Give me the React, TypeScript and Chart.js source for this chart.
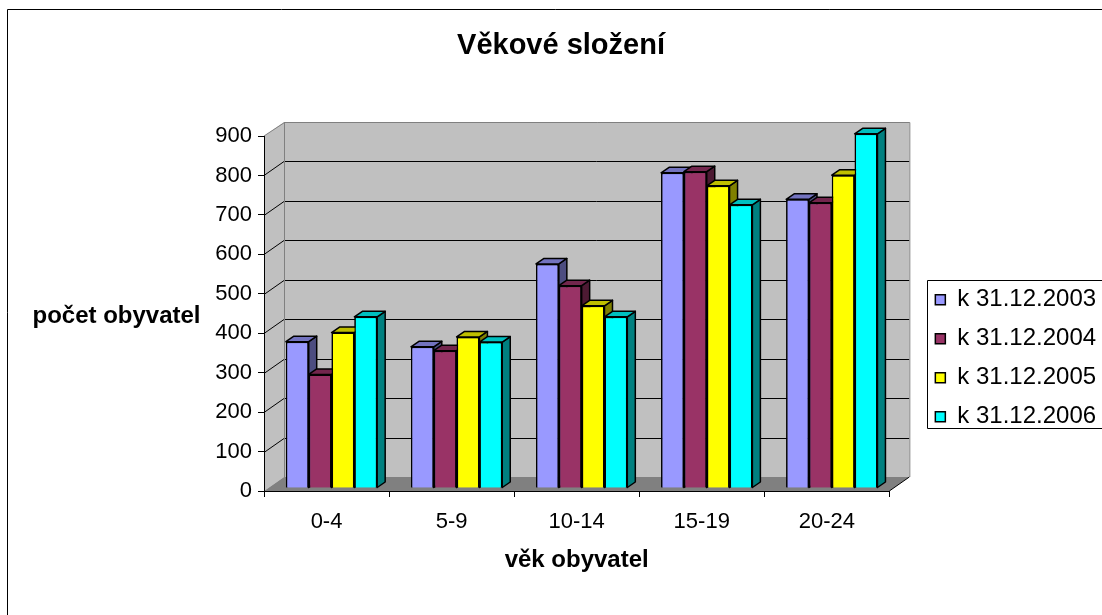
import { useEffect, useRef } from 'react';
import { Chart, registerables } from 'chart.js';

Chart.register(...registerables);

const chartTitle = 'Věkové složení';
const xAxisTitle = 'věk obyvatel';
const yAxisTitle = 'počet obyvatel';
const categories = ['0-4', '5-9', '10-14', '15-19', '20-24'];
const seriesLabels = ['k 31.12.2003', 'k 31.12.2004', 'k 31.12.2005', 'k 31.12.2006'];
const values2003 = [371, 358, 568, 799, 732];
const values2004 = [288, 348, 513, 802, 723];
const values2005 = [394, 383, 462, 766, 793];
const values2006 = [434, 370, 434, 718, 898];
const yMin = 0;
const yMax = 900;
const yStep = 100;

const frontColors = ['#9999FF', '#993366', '#FFFF00', '#00FFFF'];
const topColors = ['#7373BF', '#73264D', '#BFBF00', '#00BFBF'];
const sideColors = ['#4D4D80', '#4D1A33', '#808000', '#008080'];

const FONT = "'Liberation Sans', Arial, sans-serif";
const WALL_DX = 20;
const WALL_DY = 14;
const BAR_SHIFT_X = 5;
const BAR_SHIFT_Y = 3;
const BAR_DX = 8;
const BAR_DY = 5.5;

function poly(ctx: CanvasRenderingContext2D, pts: number[][], fill: string | null, stroke?: string, lw = 1) {
  ctx.beginPath();
  ctx.moveTo(pts[0][0], pts[0][1]);
  for (let i = 1; i < pts.length; i++) ctx.lineTo(pts[i][0], pts[i][1]);
  ctx.closePath();
  if (fill) {
    ctx.fillStyle = fill;
    ctx.fill();
  }
  if (stroke) {
    ctx.strokeStyle = stroke;
    ctx.lineWidth = lw;
    ctx.lineJoin = 'round';
    ctx.stroke();
  }
}

const wallsPlugin = {
  id: 'walls3d',
  beforeDraw(chart: any) {
    const ctx: CanvasRenderingContext2D = chart.ctx;
    const { left: L, right: R, top: T, bottom: B } = chart.chartArea;
    const ys = chart.scales.y;
    ctx.save();
    // outer frame
    ctx.strokeStyle = '#000';
    ctx.lineWidth = 1;
    ctx.beginPath();
    ctx.moveTo(7.5, chart.height + 5);
    ctx.lineTo(7.5, 9.5);
    ctx.lineTo(chart.width + 5, 9.5);
    ctx.stroke();

    // back wall
    poly(ctx, [[L + WALL_DX, T - WALL_DY], [R + WALL_DX, T - WALL_DY], [R + WALL_DX, B - WALL_DY], [L + WALL_DX, B - WALL_DY]], '#C0C0C0');
    // side wall
    poly(ctx, [[L, T], [L + WALL_DX, T - WALL_DY], [L + WALL_DX, B - WALL_DY], [L, B]], '#C0C0C0');
    // floor
    poly(ctx, [[L, B], [L + WALL_DX, B - WALL_DY], [R + WALL_DX, B - WALL_DY], [R, B]], '#808080');

    // gridlines
    ctx.strokeStyle = '#000';
    ctx.lineWidth = 1;
    ys.ticks.forEach((t: any) => {
      if (t.value <= yMin || t.value >= yMax) return;
      const p = Math.round(ys.getPixelForValue(t.value)) + 0.5;
      ctx.beginPath();
      ctx.moveTo(L, p);
      ctx.lineTo(L + WALL_DX, p - WALL_DY);
      ctx.lineTo(R + WALL_DX, p - WALL_DY);
      ctx.stroke();
    });

    // wall edges
    ctx.strokeStyle = '#808080';
    ctx.beginPath();
    ctx.moveTo(L, T);
    ctx.lineTo(L + WALL_DX + 0.5, T - WALL_DY + 0.5);
    ctx.lineTo(R + WALL_DX + 0.5, T - WALL_DY + 0.5);
    ctx.lineTo(R + WALL_DX + 0.5, B - WALL_DY);
    ctx.moveTo(L + WALL_DX + 0.5, T - WALL_DY);
    ctx.lineTo(L + WALL_DX + 0.5, B - WALL_DY);
    ctx.stroke();
    ctx.strokeStyle = '#000';
    ctx.beginPath();
    ctx.moveTo(R, B);
    ctx.lineTo(R + WALL_DX, B - WALL_DY);
    ctx.stroke();
    ctx.restore();
  },
  afterDraw(chart: any) {
    const ctx: CanvasRenderingContext2D = chart.ctx;
    ctx.save();
    // horizontal y-axis title
    ctx.font = `bold 24px ${FONT}`;
    ctx.fillStyle = '#000';
    ctx.textAlign = 'center';
    ctx.textBaseline = 'alphabetic';
    ctx.fillText(yAxisTitle, chart.chartArea.left - 147.5, 323);
    // legend frame
    const hb = chart.legend && chart.legend.legendHitBoxes;
    if (hb && hb.length) {
      const first = hb[0];
      const last = hb[hb.length - 1];
      const x0 = Math.round(first.left - 8) + 0.5;
      const y0 = Math.round(first.top - 8) + 0.5;
      const y1 = Math.round(last.top + last.height - 1) + 0.5;
      ctx.strokeStyle = '#000';
      ctx.lineWidth = 1;
      ctx.beginPath();
      ctx.moveTo(chart.width + 5, y0);
      ctx.lineTo(x0, y0);
      ctx.lineTo(x0, y1);
      ctx.lineTo(chart.width + 5, y1);
      ctx.stroke();
    }
    ctx.restore();
  },
};

const barsPlugin = {
  id: 'bars3d',
  beforeDatasetsDraw(chart: any) {
    chart.ctx.save();
    chart.ctx.translate(BAR_SHIFT_X, -BAR_SHIFT_Y);
  },
  afterDatasetsDraw(chart: any) {
    const ctx: CanvasRenderingContext2D = chart.ctx;
    const n = chart.data.labels.length;
    for (let j = 0; j < n; j++) {
      for (let i = 0; i < chart.data.datasets.length; i++) {
        const meta = chart.getDatasetMeta(i);
        if (meta.hidden) continue;
        const el = meta.data[j];
        if (!el) continue;
        const { x, y, base, width } = el.getProps(['x', 'y', 'base', 'width'], true);
        const l = x - width / 2;
        const r = x + width / 2;
        poly(ctx, [[r, y], [r + BAR_DX, y - BAR_DY], [r + BAR_DX, base - BAR_DY], [r, base]], sideColors[i], '#000', 1.5);
        poly(ctx, [[l, y], [l + BAR_DX, y - BAR_DY], [r + BAR_DX, y - BAR_DY], [r, y]], topColors[i], '#000', 1.5);
        el.draw(ctx, chart.chartArea);
      }
    }
    ctx.restore();
  },
};

export default function App() {
  const ref = useRef<HTMLCanvasElement | null>(null);
  useEffect(() => {
    if (!ref.current) return;
    const seriesValues = [values2003, values2004, values2005, values2006];
    const chart = new Chart(ref.current, {
      type: 'bar',
      data: {
        labels: categories,
        datasets: seriesLabels.map((label, i) => ({
          label,
          data: seriesValues[i],
          backgroundColor: frontColors[i],
          borderColor: '#000',
          borderWidth: 1.5,
          categoryPercentage: 0.73,
          barPercentage: 1.0,
        })),
      },
      options: {
        responsive: false,
        animation: false,
        events: [],
        layout: { padding: { left: 22, right: 2, top: 0, bottom: 0 } },
        plugins: {
          tooltip: { enabled: false },
          title: {
            display: true,
            text: chartTitle,
            color: '#000',
            font: { family: FONT, size: 29, weight: 'bold', lineHeight: 1.2 },
            padding: { top: 28.6, bottom: 72.6 },
          },
          legend: {
            display: true,
            position: 'right',
            align: 'center',
            title: {
              display: true,
              text: ' ',
              font: { family: FONT, size: 1, lineHeight: 1 },
              padding: { top: 100.6, bottom: 0 },
            },
            labels: {
              color: '#000',
              font: { family: FONT, size: 24 },
              boxWidth: 10,
              boxHeight: 10,
              padding: 15,
            },
          },
        },
        scales: {
          x: {
            type: 'category',
            grid: { display: true, drawOnChartArea: false, drawTicks: true, tickLength: 6, color: '#000', offset: true },
            border: { display: true, color: '#000' },
            ticks: { color: '#000', font: { family: FONT, size: 22 }, padding: 12, maxRotation: 0 },
            title: {
              display: true,
              text: xAxisTitle,
              color: '#000',
              font: { family: FONT, size: 24, weight: 'bold', lineHeight: 1.2 },
              padding: { top: 0, bottom: 40.6 },
            },
            afterFit(scale: any) {
              scale.height = 124;
            },
          },
          y: {
            type: 'linear',
            min: yMin,
            max: yMax,
            grid: { display: true, drawOnChartArea: false, drawTicks: true, tickLength: 6, color: '#000' },
            border: { display: true, color: '#000' },
            ticks: { stepSize: yStep, color: '#000', font: { family: FONT, size: 22 }, padding: 6 },
            afterFit(scale: any) {
              scale.width = 242;
            },
          },
          gap: {
            type: 'linear',
            position: 'right',
            display: true,
            grid: { display: false },
            border: { display: false },
            ticks: { display: false },
            afterFit(scale: any) {
              scale.width = 31;
            },
          },
        },
      } as any,
      plugins: [wallsPlugin, barsPlugin],
    });
    return () => chart.destroy();
  }, []);
  return (
    <div style={{ position: 'fixed', left: 0, top: 0, width: 1102, height: 615, background: '#fff' }}>
      <canvas ref={ref} width={1102} height={615} style={{ display: 'block' }} />
    </div>
  );
}
